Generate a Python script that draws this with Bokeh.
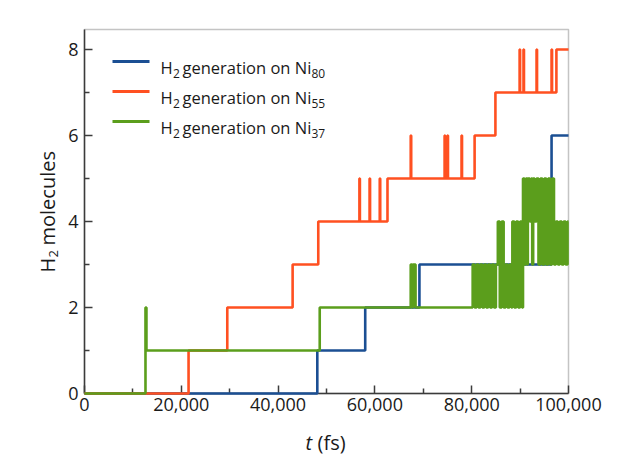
import math
from bokeh.plotting import figure
from bokeh.models import Range1d, FixedTicker, NumeralTickFormatter, Label, BoxAnnotation
from bokeh.embed import file_html
from bokeh.resources import INLINE

# Number of H2 molecules vs simulation time (fs); each value holds until the next time
ni80_t = [0, 48100, 58000, 69200, 96500, 100000]
ni80_n = [0, 1, 2, 3, 6, 6]

ni55_t = [0, 21500, 29500, 43000, 48300,
          56800, 56900, 58900, 59000, 61000, 61100, 62600,
          67400, 67500, 74400, 74500, 75000, 75100, 77900, 78000, 80600,
          84900,
          89900, 90000, 90700, 90800, 93400, 93500, 96500, 96600, 97500, 100000]
ni55_n = [0, 1, 2, 3, 4,
          5, 4, 5, 4, 5, 4, 5,
          6, 5, 6, 5, 6, 5, 6, 5, 6,
          7,
          8, 7, 8, 7, 8, 7, 8, 7, 8, 8]

ni37_t = [0, 12600, 12800, 48600, 67400, 67700, 67900, 68400,
          80200, 80600, 81000, 81400, 81800, 82200, 82600, 83000, 83400, 83800, 84200, 84600, 85000,
          85400, 85800, 86200, 86600, 87000, 87400, 87800, 88200,
          88400, 88800, 89200, 89600, 90000, 90400,
          90600, 90900, 91200, 91500, 91600, 92000, 92300, 92500, 92700, 93000, 93400, 93800,
          94200, 94600, 95000, 95400, 95800, 96200, 96600, 97000,
          97400, 97800, 98200, 98600, 99000, 99400, 99800, 100000]
ni37_n = [0, 2, 1, 2, 3, 2, 3, 2,
          3, 2, 3, 2, 3, 2, 3, 2, 3, 2, 3, 2, 3,
          4, 2, 4, 2, 3, 2, 3, 2,
          4, 2, 4, 2, 4, 2,
          5, 3, 5, 3, 5, 4, 5, 3, 5, 4, 5, 3,
          5, 3, 5, 3, 5, 3, 5, 3,
          4, 3, 4, 3, 4, 3, 4, 4]

cluster_sizes = ["80", "55", "37"]
series_colors = ["#1b4f93", "#ff5021", "#5b9e1c"]

x_major = [0, 20000, 40000, 60000, 80000, 100000]
x_minor = [10000, 30000, 50000, 70000, 90000]
y_major = [0, 2, 4, 6, 8]
y_minor = [1, 3, 5, 7]

X_MAX = 100000
Y_MAX = 8.465
W, H = 634, 463
L, R, T, B = 84, 568, 29, 393   # plot box edges in canvas pixels
FONT = "Open Sans"
INK = "#1a1a1a"
AXIS = "#3c3c3c"


def dx(px):
    return (px - L) / (R - L) * X_MAX


def dy(py):
    return (B - py) / (B - T) * Y_MAX


# the drawing area spans the whole canvas so titles with sub/superscripts can sit beside the axes
p = figure(width=W, height=H, x_range=Range1d(dx(0), dx(W)), y_range=Range1d(dy(H), dy(0)),
           output_backend="svg", toolbar_location=None, min_border=0)
p.grid.visible = False
p.background_fill_color = "white"
p.border_fill_color = "white"
p.outline_line_color = None

# box around the data region
p.add_layout(BoxAnnotation(left=0, right=X_MAX, bottom=0, top=Y_MAX,
                           fill_alpha=0, line_color=AXIS, line_width=1.5))

for ax in (p.xaxis[0], p.yaxis[0]):
    ax.fixed_location = 0
    ax.axis_line_color = AXIS
    ax.axis_line_width = 1.5
    ax.major_tick_line_color = AXIS
    ax.minor_tick_line_color = AXIS
    ax.major_tick_line_width = 1.5
    ax.minor_tick_line_width = 1.5
    ax.major_tick_in = 8
    ax.major_tick_out = 0
    ax.minor_tick_in = 5
    ax.minor_tick_out = 0
    ax.major_label_text_font = FONT
    ax.major_label_text_font_size = "18px"
    ax.major_label_text_color = INK

p.xaxis.bounds = (0, X_MAX)
p.xaxis.ticker = FixedTicker(ticks=x_major, minor_ticks=x_minor)
p.xaxis.formatter = NumeralTickFormatter(format="0,0")
p.xaxis.major_label_standoff = 4
p.yaxis.bounds = (0, Y_MAX)
p.yaxis.ticker = FixedTicker(ticks=y_major, minor_ticks=y_minor)
p.yaxis.major_label_standoff = 6

# step traces, green drawn last so it sits on top
for t, n, c in [(ni80_t, ni80_n, series_colors[0]),
                (ni55_t, ni55_n, series_colors[1]),
                (ni37_t, ni37_n, series_colors[2])]:
    p.step(t, n, mode="after", line_color=c, line_width=2.6, level="overlay")


def label(px, py, text, size, angle=0.0, style="normal"):
    p.add_layout(Label(x=dx(px), y=dy(py), text=text, angle=angle,
                       text_font=FONT, text_font_size=f"{size}px", text_font_style=style,
                       text_color=INK, text_align="left", text_baseline="alphabetic"))


# legend
for i, (sz, c) in enumerate(zip(cluster_sizes, series_colors)):
    ly = 61 + 30 * i
    p.segment(x0=[dx(112)], y0=[dy(ly)], x1=[dx(149)], y1=[dy(ly)], line_color=c, line_width=3)
    label(160, ly + 6, "H", 16.5)
    label(172.5, ly + 12, "2", 12)
    label(182, ly + 6, "generation on Ni", 16.5)
    label(311, ly + 12, sz, 12)

# y axis title (rotated)
label(47, 272, "H", 20, angle=math.pi / 2)
label(53, 257, "2", 13, angle=math.pi / 2)
label(47, 245, "molecules", 20, angle=math.pi / 2)

# x axis title
label(305, 442, "t", 20, style="italic")
label(317, 442, "(fs)", 20)

open("out.html", "w").write(file_html(p, INLINE))
